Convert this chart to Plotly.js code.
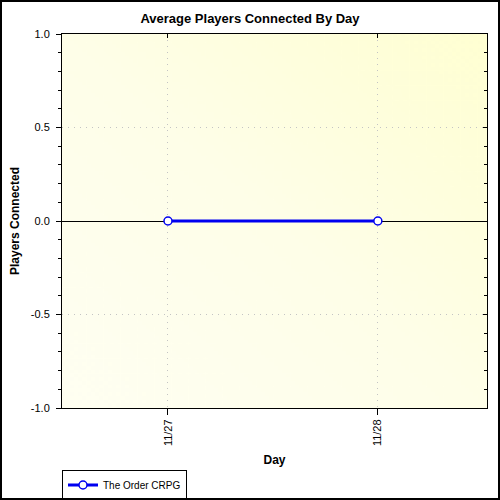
<!DOCTYPE html>
<html>
<head>
<meta charset="utf-8">
<script src="https://cdn.plot.ly/plotly-3.0.1.min.js"></script>
<style>
  body { margin: 0; background: #fff; }
  #wrap { position: relative; width: 500px; height: 500px; }
  #chart { width: 500px; height: 500px; }
  #frame {
    position: absolute; left: 0; top: 0; width: 500px; height: 500px;
    box-sizing: border-box; border: 2px solid #000; pointer-events: none;
  }
</style>
</head>
<body>
<div id="wrap">
  <div id="chart"></div>
  <div id="frame"></div>
</div>
<script>
// data
const days = ['11/27', '11/28'];
const players = [0, 0];
const seriesName = 'The Order CRPG';
const yTickVals = [-1, -0.5, 0, 0.5, 1];
const yTickText = ['-1.0', '-0.5', '0.0', '0.5', '1.0'];

// soft yellow gradient for the plot background
function gradientImage() {
    let c = document.createElement('canvas');
    c.width = 200;
    c.height = 200;
    let ctx = c.getContext('2d');
    let g = ctx.createLinearGradient(200, 0, 0, 200);
    g.addColorStop(0, '#ffffd2');
    g.addColorStop(0.5, '#fefee8');
    g.addColorStop(1, '#fffff2');
    ctx.fillStyle = g;
    ctx.fillRect(0, 0, 200, 200);
    return c.toDataURL();
}

const font = 'Arial, "Liberation Sans", sans-serif';
const gridColor = '#c4c4c4';
const gridDash = '1px,5px';

let main = {
    x: days,
    y: players,
    name: seriesName,
    type: 'scatter',
    mode: 'lines+markers',
    line: { color: '#0000f0', width: 3 },
    marker: { symbol: 'circle', size: 8, color: '#ffffff', line: { color: '#0000f0', width: 1.5 } }
};

// invisible copy so the mirrored top/right axes get drawn
let mirror = {
    x: days,
    y: players,
    xaxis: 'x2',
    yaxis: 'y2',
    type: 'scatter',
    mode: 'lines',
    opacity: 0,
    showlegend: false,
    hoverinfo: 'skip'
};

let layout = {
    width: 500,
    height: 500,
    margin: { l: 62, r: 13, t: 34, b: 92 },
    paper_bgcolor: '#ffffff',
    plot_bgcolor: 'rgba(0,0,0,0)',
    font: { family: font, size: 11, color: '#000' },
    showlegend: true,
    title: {
        text: '<b>Average Players Connected By Day</b>',
        font: { family: font, size: 13, color: '#000' },
        xref: 'container', x: 0.5, xanchor: 'center',
        yref: 'container', y: 0.964, yanchor: 'middle'
    },
    images: [{
        source: gradientImage(),
        xref: 'paper', yref: 'paper',
        x: 0, y: 1, sizex: 1, sizey: 1,
        xanchor: 'left', yanchor: 'top',
        sizing: 'stretch', layer: 'below'
    }],
    xaxis: {
        type: 'category',
        range: [-0.505, 1.52],
        showline: true, linecolor: '#000', linewidth: 1,
        ticks: 'outside', ticklen: 6, tickcolor: '#000',
        tickangle: -90,
        tickfont: { family: font, size: 11, color: '#000' },
        showgrid: true, gridcolor: gridColor, griddash: gridDash, gridwidth: 1,
        zeroline: false,
        title: { text: '<b>Day</b>', font: { family: font, size: 12, color: '#000' }, standoff: 10 }
    },
    yaxis: {
        range: [-1, 1],
        tickvals: yTickVals,
        ticktext: yTickText,
        showline: true, linecolor: '#000', linewidth: 1,
        ticks: 'outside', ticklen: 5, tickcolor: '#000',
        ticklabelstandoff: 4,
        minor: { dtick: 0.1, ticks: 'outside', ticklen: 3, tickcolor: '#000', showgrid: false },
        tickfont: { family: font, size: 11, color: '#000' },
        showgrid: true, gridcolor: gridColor, griddash: gridDash, gridwidth: 1,
        zeroline: true, zerolinecolor: '#000', zerolinewidth: 1,
        title: { text: '<b>Players Connected</b>', font: { family: font, size: 12, color: '#000' }, standoff: 8 }
    },
    xaxis2: {
        type: 'category',
        overlaying: 'x', side: 'top',
        range: [-0.505, 1.52],
        showline: true, linecolor: '#000', linewidth: 1,
        ticks: 'inside', ticklen: 4, tickcolor: '#000',
        showticklabels: false, showgrid: false, zeroline: false
    },
    yaxis2: {
        overlaying: 'y', side: 'right',
        range: [-1, 1],
        tickvals: yTickVals,
        showline: true, linecolor: '#000', linewidth: 1,
        ticks: 'inside', ticklen: 4, tickcolor: '#000',
        minor: { dtick: 0.1, ticks: 'inside', ticklen: 3, tickcolor: '#000', showgrid: false },
        showticklabels: false, showgrid: false, zeroline: false
    },
    legend: {
        orientation: 'h',
        xref: 'paper', x: 0, xanchor: 'left',
        yref: 'container', y: 0.03, yanchor: 'middle',
        bgcolor: '#ffffff', bordercolor: '#000', borderwidth: 1,
        itemwidth: 30,
        font: { family: font, size: 10, color: '#000' }
    }
};

Plotly.newPlot('chart', [main, mirror], layout, { displayModeBar: false, staticPlot: true });
</script>
</body>
</html>
